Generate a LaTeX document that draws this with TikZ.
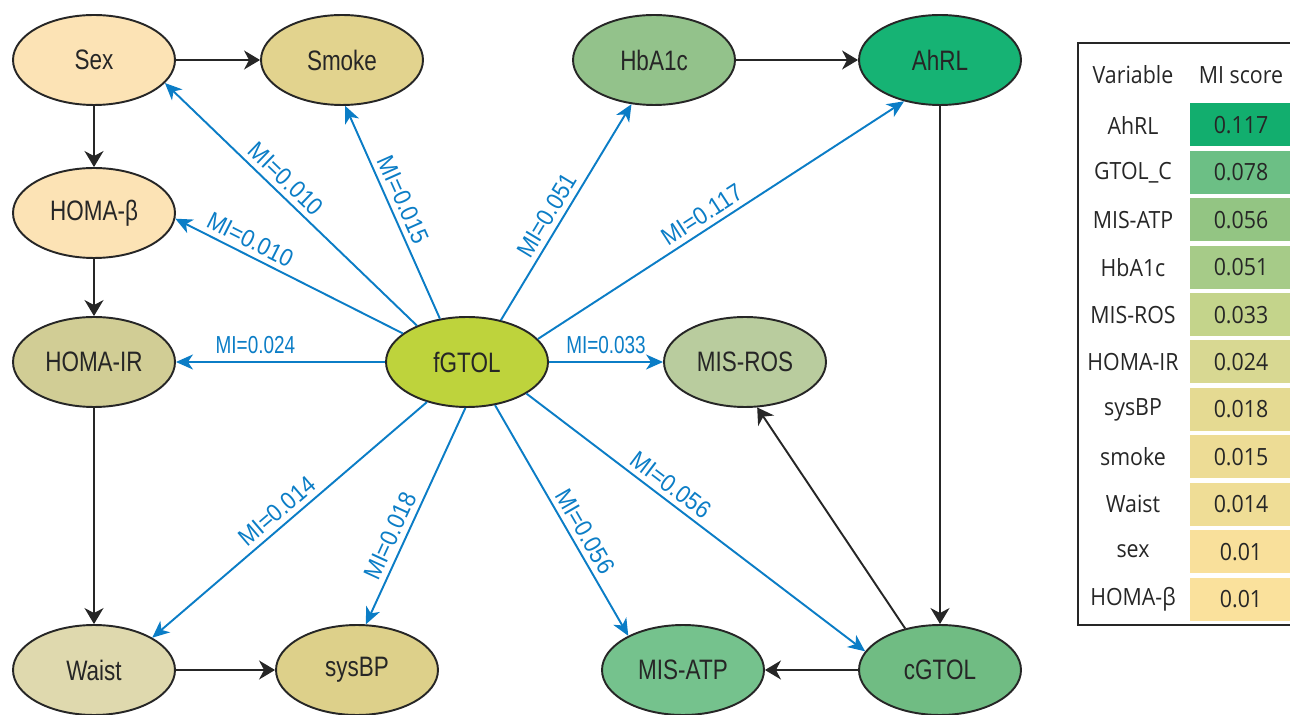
\documentclass[tikz,border=0pt]{standalone}
\usepackage{fontspec}
\usetikzlibrary{shapes.geometric,arrows.meta}
\newfontfamily\nodefont{Liberation Sans}[FakeStretch=0.8]
\newfontfamily\lblfont{Liberation Sans}[FakeStretch=0.77]
\newfontfamily\slfont{Liberation Sans}[FakeStretch=0.9]
\newfontfamily\tabfont{Open Sans}[FakeStretch=0.9]
\definecolor{miblue}{HTML}{0B7DC6}
\definecolor{inkc}{HTML}{262626}
\definecolor{cSex}{HTML}{FCE3B5}
\definecolor{cSmoke}{HTML}{E2D38E}
\definecolor{cHomaB}{HTML}{FCE3B5}
\definecolor{cHomaIR}{HTML}{D1CD95}
\definecolor{cWaist}{HTML}{DFD9AE}
\definecolor{cSysBP}{HTML}{DDD08A}
\definecolor{cFGTOL}{HTML}{BED33C}
\definecolor{cMisRos}{HTML}{B9CC9E}
\definecolor{cMisAtp}{HTML}{75C28D}
\definecolor{cCGTOL}{HTML}{70BC83}
\definecolor{cHbA}{HTML}{93C28B}
\definecolor{cAhRL}{HTML}{16B374}
\definecolor{tA}{HTML}{12AE6E}
\definecolor{tB}{HTML}{6CBF85}
\definecolor{tC}{HTML}{93C583}
\definecolor{tD}{HTML}{A6CB88}
\definecolor{tE}{HTML}{C4D48B}
\definecolor{tF}{HTML}{D8D892}
\definecolor{tG}{HTML}{E5DA92}
\definecolor{tH}{HTML}{EDDC95}
\definecolor{tI}{HTML}{EFDD96}
\definecolor{tJ}{HTML}{F9E09B}
\definecolor{tK}{HTML}{FAE19C}
\begin{document}
\begin{tikzpicture}[x=0.02cm,y=-0.02cm,
  var/.style={ellipse, draw=inkc, line width=1.1pt, minimum width=3.24cm,
    minimum height=1.8cm, inner sep=0pt, text=inkc,
    font=\nodefont\fontsize{16pt}{19pt}\selectfont},
  blk/.style={draw=inkc, line width=1.1pt,
    -{Stealth[length=0.32cm,width=0.38cm,inset=0.1cm]}},
  mi/.style={draw=miblue, line width=1.1pt,
    -{Stealth[length=0.34cm,width=0.3cm,inset=0.1cm]}},
  milbl/.style={sloped, above=1pt, text=miblue, inner sep=2pt,
    font=\slfont\fontsize{14pt}{16pt}\selectfont},
  mih/.style={above=2pt, text=miblue, inner sep=2pt,
    font=\lblfont\fontsize{14pt}{16pt}\selectfont},
  tabtxt/.style={text=inkc, inner sep=0pt,
    font=\tabfont\fontsize{13.5pt}{16pt}\selectfont}]
\useasboundingbox (0,0) rectangle (1290,715);
\clip (0,0) rectangle (1290,715);
% nodes
\node[var, fill=cSex]    (sex)    at (94,60)   {Sex};
\node[var, fill=cSmoke]  (smoke)  at (342,60)  {Smoke};
\node[var, fill=cHbA]    (hba)    at (654,60)  {HbA1c};
\node[var, fill=cAhRL]   (ahrl)   at (940,60)  {AhRL};
\node[var, fill=cHomaB]  (homab)  at (94,213)  {HOMA-β};
\node[var, fill=cHomaIR] (homair) at (94,362)  {HOMA-IR};
\node[var, fill=cFGTOL]  (fgtol)  at (467,362) {fGTOL};
\node[var, fill=cMisRos] (misros) at (745,362) {MIS-ROS};
\node[var, fill=cWaist]  (waist)  at (94,670)  {Waist};
\node[var, fill=cSysBP]  (sysbp)  at (357,670) {sysBP};
\node[var, fill=cMisAtp] (misatp) at (683,670) {MIS-ATP};
\node[var, fill=cCGTOL]  (cgtol)  at (940,670) {cGTOL};
% black edges
\draw[blk] (sex.east) -- (smoke.west);
\draw[blk] (sex.south) -- (homab.north);
\draw[blk] (homab.south) -- (homair.north);
\draw[blk] (homair.south) -- (waist.north);
\draw[blk] (waist.east) -- (sysbp.west);
\draw[blk] (hba.east) -- (ahrl.west);
\draw[blk] (ahrl.south) -- (cgtol.north);
\draw[blk] (cgtol.west) -- (misatp.east);
\draw[blk] (cgtol.130) -- (misros.-75);
% blue edges
\draw[mi] (fgtol.144.6) -- node[milbl, pos=0.56] {MI=0.010} (sex.-18);
\draw[mi] (fgtol.122.8) -- node[milbl, pos=0.53] {MI=0.015} (smoke.-86.6);
\draw[mi] (fgtol.156) -- node[milbl, pos=0.70] {MI=0.010} (homab.-4);
\draw[mi] (fgtol.180) -- node[mih, pos=0.62] {MI=0.024} (homair.0);
\draw[mi] (fgtol.-135) -- node[milbl, pos=0.51] {MI=0.014} (waist.29);
\draw[mi] (fgtol.-92.5) -- node[milbl, pos=0.62] {MI=0.018} (sysbp.79);
\draw[mi] (fgtol.-57) -- node[milbl, pos=0.58] {MI=0.056} (misatp.148);
\draw[mi] (fgtol.-28.8) -- node[milbl, pos=0.40] {MI=0.056} (cgtol.166);
\draw[mi] (fgtol.0) -- node[mih, pos=0.5] {MI=0.033} (misros.180);
\draw[mi] (fgtol.51.5) -- node[milbl, pos=0.45] {MI=0.051} (hba.-117.6);
\draw[mi] (fgtol.18.9) -- node[milbl, pos=0.47] {MI=0.117} (ahrl.-131.5);
% table
\draw[draw=inkc, line width=1pt] (1078,43) rectangle (1320,625);
\node[tabtxt] (hvar) at (1133,75) {Variable};
\node[tabtxt] (hmi)  at (1241,75) {MI score};
\foreach \i/\v/\s/\c in {0/AhRL/0.117/tA, 1/GTOL\_C/0.078/tB, 2/MIS-ATP/0.056/tC,
  3/HbA1c/0.051/tD, 4/MIS-ROS/0.033/tE, 5/HOMA-IR/0.024/tF, 6/sysBP/0.018/tG,
  7/smoke/0.015/tH, 8/Waist/0.014/tI, 9/sex/0.01/tJ, 10/HOMA-β/0.01/tK}{
  \pgfmathsetmacro{\yc}{125+47.4*\i}
  \fill[\c] (1190,\yc-21.5) rectangle (1310,\yc+21.5);
  \node[tabtxt] (v\i) at (1133,\yc) {\v};
  \node[tabtxt] (s\i) at (1241,\yc) {\s};
}
\end{tikzpicture}
\end{document}
